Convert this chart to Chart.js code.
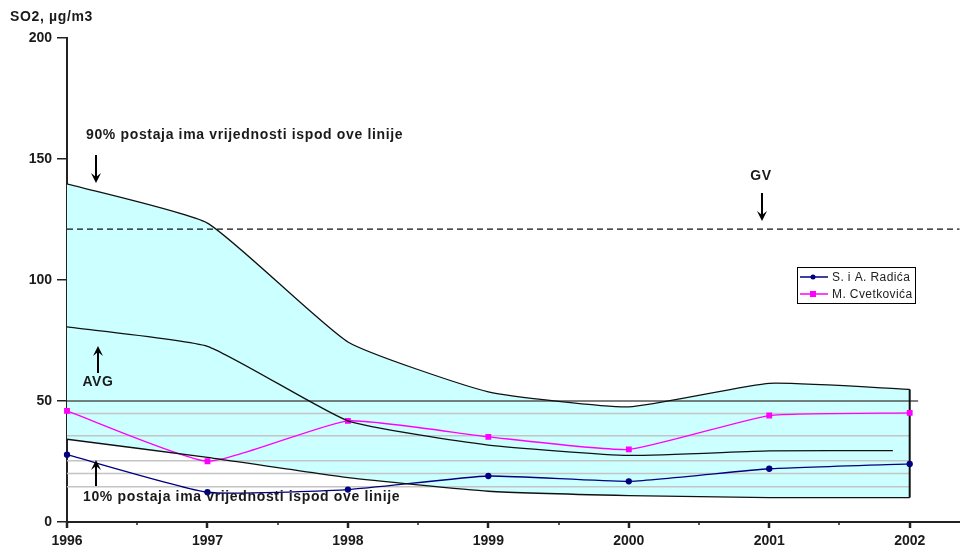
<!DOCTYPE html>
<html>
<head>
<meta charset="utf-8">
<title>SO2, µg/m3</title>
<script src="https://cdn.jsdelivr.net/npm/chart.js@4.4.1/dist/chart.umd.min.js"></script>
<style>
  html, body { margin: 0; padding: 0; background: #ffffff; }
  #wrap { width: 965px; height: 550px; position: relative; }
</style>
</head>
<body>
<div id="wrap"><canvas id="c" width="965" height="550"></canvas></div>
<script>
// Years on the horizontal axis
const years = [1996, 1997, 1998, 1999, 2000, 2001, 2002];
const yTicks = [0, 50, 100, 150, 200];

// 90th and 10th percentile of all stations (the shaded band)
const p90 = [139.7, 123.5, 74.4, 53.8, 47.6, 57.3, 54.8];
const p10 = [34.2, 26.7, 18.3, 12.7, 10.9, 10.1, 10.1];

// Average of all stations (last reading just before 2002)
const avgYears = [1996, 1997, 1998, 1999, 2000, 2001, 2001.88];
const avg = [80.6, 72.6, 41.8, 31.8, 27.5, 29.4, 29.5];

// Individual stations
const radica = [27.8, 12.3, 13.4, 19.0, 16.8, 22.0, 24.0];
const cvetkovica = [45.9, 25.1, 41.8, 35.2, 30.0, 44.0, 45.1];

// Limit value (GV) and horizontal reference levels
const GV = 121;
const mainLevel = 50;
const refLevels = [44.8, 35.6, 25.3, 20.0, 14.6];

const X_MAX = 2002.356;
const FONT = "'Liberation Sans', Arial, sans-serif";
const TEXT = '#1a1a1a';

const pts = (xs, ys) => xs.map((x, i) => ({ x: x, y: ys[i] }));

// Draws a vertical arrow whose tip sits at yTip
function arrow(ctx, x, yTail, yTip) {
  const dir = yTip > yTail ? 1 : -1;
  ctx.save();
  ctx.strokeStyle = '#000';
  ctx.fillStyle = '#000';
  ctx.lineWidth = 2;
  ctx.beginPath();
  ctx.moveTo(x, yTail);
  ctx.lineTo(x, yTip - dir * 5);
  ctx.stroke();
  ctx.beginPath();
  ctx.moveTo(x, yTip);
  ctx.lineTo(x - 5, yTip - dir * 10);
  ctx.lineTo(x, yTip - dir * 6);
  ctx.lineTo(x + 5, yTip - dir * 10);
  ctx.closePath();
  ctx.fill();
  ctx.restore();
}

const decor = {
  id: 'decor',
  beforeDatasetsDraw(chart) {
    const { ctx } = chart;
    const xs = chart.scales.x, ys = chart.scales.y;
    const x0 = xs.getPixelForValue(years[0]);
    const x1 = xs.getPixelForValue(years[years.length - 1]);
    ctx.save();
    // light reference levels across the band
    ctx.strokeStyle = '#c4c4c4';
    ctx.lineWidth = 1.5;
    refLevels.forEach(v => {
      const y = ys.getPixelForValue(v);
      ctx.beginPath(); ctx.moveTo(x0, y); ctx.lineTo(x1, y); ctx.stroke();
    });
    // 50 µg/m3 level
    ctx.strokeStyle = '#555';
    ctx.lineWidth = 1.6;
    const y50 = ys.getPixelForValue(mainLevel);
    ctx.beginPath(); ctx.moveTo(x0, y50); ctx.lineTo(xs.getPixelForValue(2002.06), y50); ctx.stroke();
    // closing edge of the band at the last year
    ctx.strokeStyle = '#111';
    ctx.lineWidth = 2;
    ctx.beginPath();
    ctx.moveTo(x1, ys.getPixelForValue(p90[p90.length - 1]));
    ctx.lineTo(x1, ys.getPixelForValue(p10[p10.length - 1]));
    ctx.stroke();
    ctx.restore();
  },
  afterDraw(chart) {
    const { ctx } = chart;
    const xs = chart.scales.x, ys = chart.scales.y;
    const axisY = ys.getPixelForValue(0);
    ctx.save();
    // x-axis tick marks: years and half years
    ctx.strokeStyle = '#222';
    for (let v = years[0]; v <= X_MAX; v += 0.5) {
      const px = Math.round(xs.getPixelForValue(v));
      const major = Math.abs(v - Math.round(v)) < 1e-6;
      ctx.lineWidth = major ? 2.5 : 1.5;
      ctx.beginPath();
      ctx.moveTo(px, axisY);
      ctx.lineTo(px, axisY + (major ? 6 : 3));
      ctx.stroke();
    }

    // axis title
    ctx.fillStyle = TEXT;
    ctx.font = 'bold 14px ' + FONT;
    ctx.letterSpacing = '0.65px';
    ctx.textAlign = 'left';
    ctx.textBaseline = 'middle';
    ctx.fillText('SO2, µg/m3', 10, 17);

    // annotations
    ctx.fillText('90% postaja ima vrijednosti ispod ove linije', 86, 135);
    ctx.fillText('10% postaja ima vrijednosti ispod ove linije', 83, 497);
    ctx.textAlign = 'center';
    ctx.fillText('GV', 761, 176);
    ctx.fillText('AVG', 98, 382);
    ctx.letterSpacing = '0px';
    arrow(ctx, 96, 155, 183);
    arrow(ctx, 762, 193, 221);
    arrow(ctx, 98, 373, 346);
    arrow(ctx, 96, 486, 460);

    // legend
    const lx = 797, ly = 267, lw = 118, lh = 36;
    ctx.fillStyle = '#fff';
    ctx.fillRect(lx, ly, lw, lh);
    ctx.strokeStyle = '#000';
    ctx.lineWidth = 1;
    ctx.strokeRect(lx + 0.5, ly + 0.5, lw, lh);
    const entries = [chart.data.datasets[3], chart.data.datasets[4]];
    entries.forEach((ds, i) => {
      const cy = ly + 10 + i * 17;
      ctx.strokeStyle = ds.borderColor;
      ctx.lineWidth = 1.5;
      ctx.beginPath(); ctx.moveTo(lx + 3, cy); ctx.lineTo(lx + 31, cy); ctx.stroke();
      ctx.fillStyle = ds.borderColor;
      if (ds.pointStyle === 'rect') {
        ctx.fillRect(lx + 13, cy - 3, 6, 6);
      } else {
        ctx.beginPath(); ctx.arc(lx + 16, cy, 2.5, 0, Math.PI * 2); ctx.fill();
      }
      ctx.fillStyle = '#222';
      ctx.font = '12px ' + FONT;
      ctx.letterSpacing = '0.4px';
      ctx.textAlign = 'left';
      ctx.textBaseline = 'middle';
      ctx.fillText(ds.label, lx + 35, cy + 1);
    });
    ctx.letterSpacing = '0px';
    ctx.restore();
  }
};

const lineBase = { borderWidth: 1.3, pointRadius: 0, tension: 0.15, fill: false };

new Chart(document.getElementById('c'), {
  type: 'line',
  data: {
    datasets: [
      Object.assign({}, lineBase, {
        label: '90%', data: pts(years, p90), borderColor: '#111',
        fill: 1, backgroundColor: '#ccffff'
      }),
      Object.assign({}, lineBase, { label: '10%', data: pts(years, p10), borderColor: '#111' }),
      Object.assign({}, lineBase, { label: 'AVG', data: pts(avgYears, avg), borderColor: '#111' }),
      Object.assign({}, lineBase, {
        label: 'S. i A. Radića', data: pts(years, radica), borderColor: '#000080',
        backgroundColor: '#000080', pointRadius: 2.5, pointStyle: 'circle', borderWidth: 1.3,
        clip: false
      }),
      Object.assign({}, lineBase, {
        label: 'M. Cvetkovića', data: pts(years, cvetkovica), borderColor: '#ff00ff',
        backgroundColor: '#ff00ff', pointRadius: 3.2, pointStyle: 'rect', borderWidth: 1.3,
        clip: false
      }),
      {
        label: 'GV', data: [{ x: years[0], y: GV }, { x: X_MAX, y: GV }],
        borderColor: '#111', borderWidth: 1.2, borderDash: [6, 4], pointRadius: 0, fill: false
      }
    ]
  },
  options: {
    responsive: false,
    animation: false,
    events: [],
    layout: { padding: { top: 38, left: 0, right: 0, bottom: 0 } },
    plugins: {
      legend: { display: false },
      tooltip: { enabled: false },
      filler: { drawTime: 'beforeDatasetsDraw' }
    },
    scales: {
      x: {
        type: 'linear', min: years[0], max: X_MAX,
        afterFit(s) { s.height = 28; },
        afterBuildTicks(s) { s.ticks = years.map(v => ({ value: v })); },
        grid: { display: false, drawTicks: false },
        border: { display: true, color: '#222', width: 2 },
        ticks: {
          padding: 11, color: TEXT, maxRotation: 0, autoSkip: false,
          font: { family: FONT, size: 14, weight: 'bold' },
          callback: v => String(v)
        }
      },
      y: {
        min: 0, max: 200,
        afterFit(s) { s.width = 67; },
        afterBuildTicks(s) { s.ticks = yTicks.map(v => ({ value: v })); },
        grid: { drawOnChartArea: false, drawTicks: true, tickLength: 10, color: '#222', lineWidth: 1.5 },
        border: { display: true, color: '#222', width: 2 },
        ticks: {
          padding: 5, color: TEXT,
          font: { family: FONT, size: 14, weight: 'bold' }
        }
      }
    }
  },
  plugins: [decor]
});
</script>
</body>
</html>
